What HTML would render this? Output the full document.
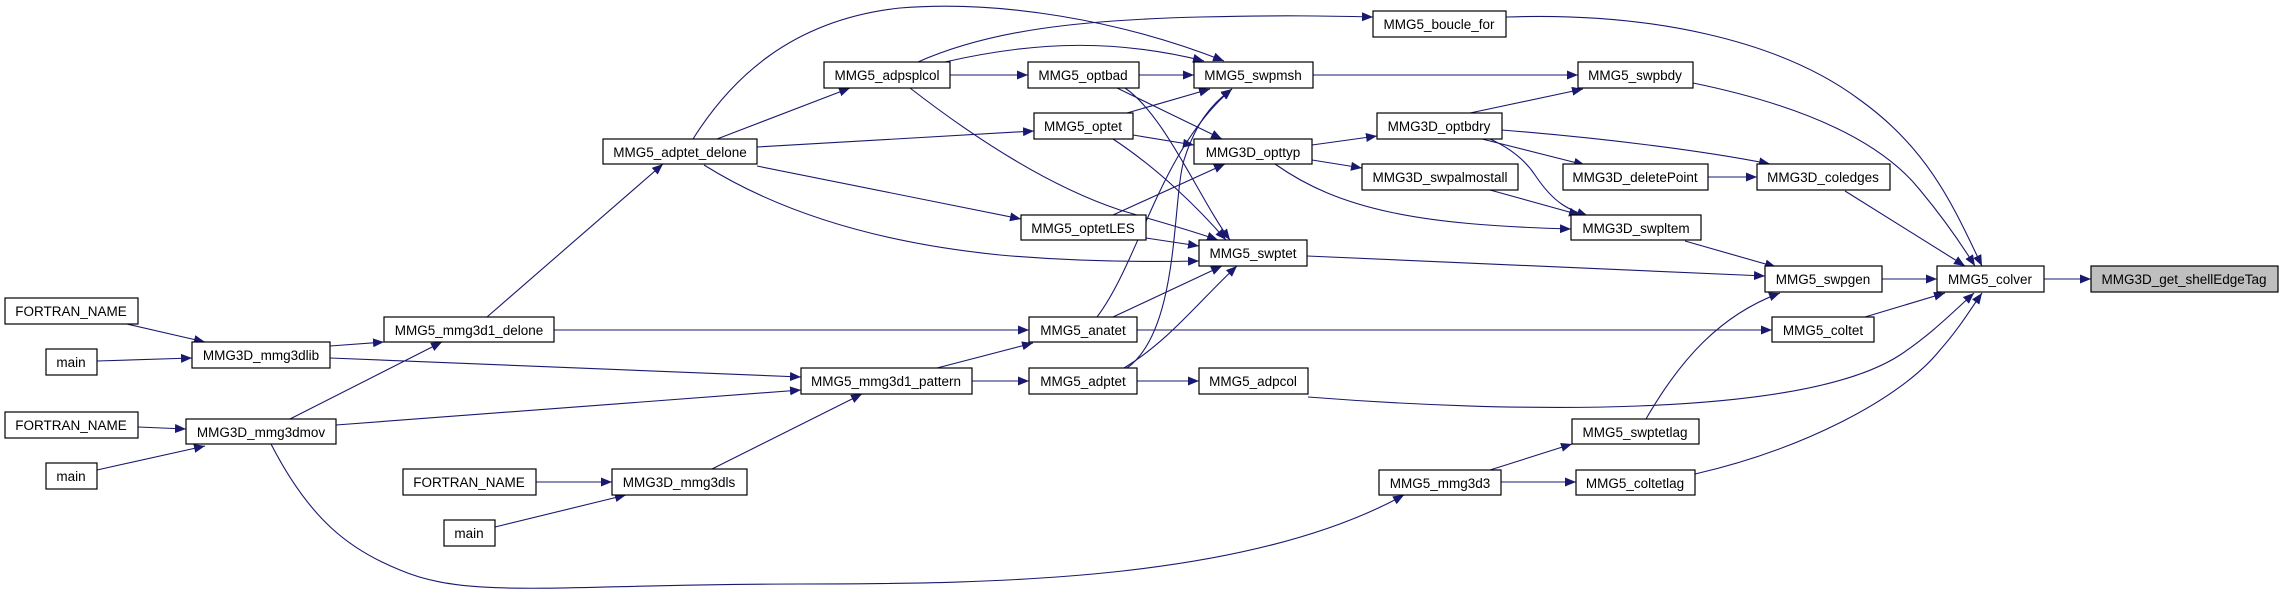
<!DOCTYPE html>
<html><head><meta charset="utf-8"><style>
html,body{margin:0;padding:0;background:#fff;}
svg{display:block;}
text{font-family:"Liberation Sans",sans-serif;font-size:13.5px;fill:#000;text-anchor:middle;}
.n{fill:#fff;stroke:#000;stroke-width:1.2;}
.e{fill:none;stroke:#191970;stroke-width:1.1;}
</style></head><body>
<svg width="2280" height="595" viewBox="0 0 2280 595" xmlns="http://www.w3.org/2000/svg">
<defs>
<marker id="a" markerUnits="userSpaceOnUse" markerWidth="12" markerHeight="10" refX="11" refY="4.5" orient="auto">
<path d="M0,0 L11,4.5 L0,9 Z" fill="#191970"/>
</marker>
</defs>
<g class="e" marker-end="url(#a)">
<path d="M2044,279 L2091,279"/>
<path d="M1882,279 L1937,279"/>
<path d="M1845,191 L1965,266"/>
<path d="M1693,83 C1800,105 1880,140 1920,190 C1945,220 1965,250 1975,266"/>
<path d="M1506,17 C1650,12 1780,40 1860,100 C1930,150 1955,210 1982,266"/>
<path d="M1865,317 L1945,293"/>
<path d="M1308,397 C1500,412 1800,420 1900,355 C1930,335 1950,315 1974,293"/>
<path d="M1695,474 C1800,450 1900,400 1940,350 C1958,330 1970,310 1982,293"/>
<path d="M1685,241 L1776,267"/>
<path d="M1307,256 L1765,276"/>
<path d="M1646,419 C1680,360 1720,315 1780,293"/>
<path d="M1708,177 L1757,177"/>
<path d="M1502,130 C1600,138 1700,150 1770,164"/>
<path d="M1482,139 L1585,165"/>
<path d="M1490,139 C1510,148 1525,160 1535,175 C1555,205 1570,210 1588,216"/>
<path d="M1490,190 L1580,215"/>
<path d="M1275,164 C1340,210 1420,225 1571,229"/>
<path d="M1313,75 L1578,75"/>
<path d="M1470,113 L1583,89"/>
<path d="M1312,145 L1377,136"/>
<path d="M1312,160 L1362,168"/>
<path d="M918,62 C990,30 1080,20 1200,17 C1280,15 1330,16 1373,17"/>
<path d="M945,62 C1040,40 1120,40 1204,61"/>
<path d="M693,139 C730,80 790,20 900,8 C1000,0 1120,20 1224,61"/>
<path d="M717,139 L850,88"/>
<path d="M950,75 L1028,75"/>
<path d="M1139,75 L1194,75"/>
<path d="M1117,88 L1222,139"/>
<path d="M1125,88 C1165,115 1200,200 1230,240"/>
<path d="M910,88 C990,150 1060,190 1120,210 C1160,222 1190,230 1218,240"/>
<path d="M1127,113 L1210,89"/>
<path d="M1133,135 L1194,145"/>
<path d="M1113,139 C1160,170 1200,210 1226,240"/>
<path d="M757,147 L1034,131"/>
<path d="M757,166 L1021,219"/>
<path d="M704,165 C760,200 850,240 1000,255 C1080,262 1150,262 1199,261"/>
<path d="M1113,215 L1225,164"/>
<path d="M1146,238 L1199,246"/>
<path d="M1097,317 C1140,260 1160,150 1232,89"/>
<path d="M1113,317 L1222,266"/>
<path d="M554,330 L1029,330"/>
<path d="M1137,330 L1772,330"/>
<path d="M937,368 L1033,343"/>
<path d="M972,381 L1029,381"/>
<path d="M1137,381 L1199,381"/>
<path d="M1124,368 C1170,340 1200,300 1237,266"/>
<path d="M1127,368 C1180,330 1172,200 1184,160 C1195,125 1210,105 1232,89"/>
<path d="M330,358 L801,377"/>
<path d="M336,425 L801,390"/>
<path d="M712,469 L862,394"/>
<path d="M330,346 L384,342"/>
<path d="M290,419 L442,342"/>
<path d="M487,317 L663,164"/>
<path d="M127,324 L205,342"/>
<path d="M97,361 L192,358"/>
<path d="M138,427 L186,429"/>
<path d="M97,470 L205,446"/>
<path d="M536,482 L612,482"/>
<path d="M495,527 L626,495"/>
<path d="M271,444 C310,520 350,550 400,570 C470,600 560,584 800,584 C1000,584 1250,580 1404,495"/>
<path d="M1490,470 L1572,444"/>
<path d="M1501,482 L1576,482"/>
</g>
<g>
<rect class="n" x="2091" y="266" width="187" height="26" style="fill:#bfbfbf"/><text x="2184" y="284">MMG3D_get_shellEdgeTag</text>
<rect class="n" x="1937" y="266" width="107" height="26"/><text x="1990" y="284">MMG5_colver</text>
<rect class="n" x="1765" y="266" width="117" height="26"/><text x="1823" y="284">MMG5_swpgen</text>
<rect class="n" x="1772" y="317" width="102" height="25"/><text x="1823" y="335">MMG5_coltet</text>
<rect class="n" x="1757" y="164" width="133" height="26"/><text x="1823" y="182">MMG3D_coledges</text>
<rect class="n" x="1563" y="164" width="145" height="26"/><text x="1635" y="182">MMG3D_deletePoint</text>
<rect class="n" x="1571" y="215" width="130" height="25"/><text x="1636" y="233">MMG3D_swpltem</text>
<rect class="n" x="1578" y="62" width="115" height="26"/><text x="1635" y="80">MMG5_swpbdy</text>
<rect class="n" x="1572" y="419" width="127" height="25"/><text x="1635" y="437">MMG5_swptetlag</text>
<rect class="n" x="1576" y="470" width="119" height="25"/><text x="1635" y="488">MMG5_coltetlag</text>
<rect class="n" x="1373" y="11" width="133" height="26"/><text x="1439" y="29">MMG5_boucle_for</text>
<rect class="n" x="1377" y="113" width="125" height="26"/><text x="1439" y="131">MMG3D_optbdry</text>
<rect class="n" x="1362" y="164" width="156" height="26"/><text x="1440" y="182">MMG3D_swpalmostall</text>
<rect class="n" x="1379" y="470" width="122" height="25"/><text x="1440" y="488">MMG5_mmg3d3</text>
<rect class="n" x="1194" y="62" width="119" height="26"/><text x="1253" y="80">MMG5_swpmsh</text>
<rect class="n" x="1194" y="139" width="118" height="25"/><text x="1253" y="157">MMG3D_opttyp</text>
<rect class="n" x="1199" y="240" width="108" height="26"/><text x="1253" y="258">MMG5_swptet</text>
<rect class="n" x="1199" y="368" width="109" height="26"/><text x="1253" y="386">MMG5_adpcol</text>
<rect class="n" x="1028" y="62" width="111" height="26"/><text x="1083" y="80">MMG5_optbad</text>
<rect class="n" x="1034" y="113" width="99" height="26"/><text x="1083" y="131">MMG5_optet</text>
<rect class="n" x="1021" y="215" width="125" height="25"/><text x="1083" y="233">MMG5_optetLES</text>
<rect class="n" x="1029" y="317" width="108" height="25"/><text x="1083" y="335">MMG5_anatet</text>
<rect class="n" x="1029" y="368" width="108" height="26"/><text x="1083" y="386">MMG5_adptet</text>
<rect class="n" x="824" y="62" width="126" height="26"/><text x="887" y="80">MMG5_adpsplcol</text>
<rect class="n" x="801" y="368" width="171" height="26"/><text x="886" y="386">MMG5_mmg3d1_pattern</text>
<rect class="n" x="603" y="139" width="154" height="25"/><text x="680" y="157">MMG5_adptet_delone</text>
<rect class="n" x="612" y="469" width="135" height="26"/><text x="679" y="487">MMG3D_mmg3dls</text>
<rect class="n" x="384" y="317" width="170" height="25"/><text x="469" y="335">MMG5_mmg3d1_delone</text>
<rect class="n" x="403" y="469" width="133" height="26"/><text x="469" y="487">FORTRAN_NAME</text>
<rect class="n" x="444" y="520" width="51" height="26"/><text x="469" y="538">main</text>
<rect class="n" x="192" y="342" width="138" height="26"/><text x="261" y="360">MMG3D_mmg3dlib</text>
<rect class="n" x="186" y="419" width="150" height="25"/><text x="261" y="437">MMG3D_mmg3dmov</text>
<rect class="n" x="5" y="298" width="133" height="26"/><text x="71" y="316">FORTRAN_NAME</text>
<rect class="n" x="46" y="349" width="51" height="26"/><text x="71" y="367">main</text>
<rect class="n" x="5" y="412" width="133" height="26"/><text x="71" y="430">FORTRAN_NAME</text>
<rect class="n" x="46" y="463" width="51" height="26"/><text x="71" y="481">main</text>
</g>
</svg>
</body></html>
